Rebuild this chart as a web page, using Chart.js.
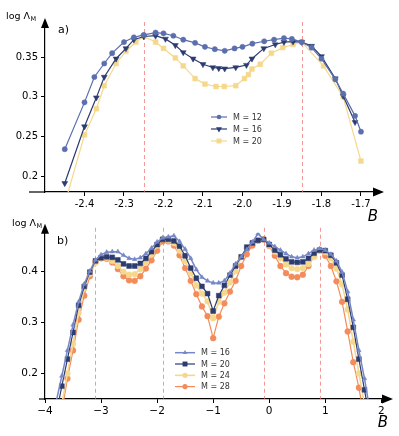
<!DOCTYPE html>
<html>
<head>
<meta charset="utf-8">
<script src="https://cdn.jsdelivr.net/npm/chart.js"></script>
<style>
  body { margin: 0; background: #fff; }
  #wrap { position: relative; width: 399px; height: 436px; overflow: hidden; }
  canvas { position: absolute; left: 0; }
  #chartA { top: 0; }
  #chartB { top: 210px; }
</style>
</head>
<body>
<div id="wrap">
  <canvas id="chartA" width="399" height="230"></canvas>
  <canvas id="chartB" width="399" height="226"></canvas>
</div>
<script>
// 패널 a) 데이터
const xA12 = [-2.45, -2.40, -2.375, -2.35, -2.33, -2.30, -2.275, -2.25, -2.22, -2.20, -2.175, -2.15, -2.12, -2.095, -2.07, -2.045, -2.02, -2.0, -1.975, -1.945, -1.92, -1.895, -1.875, -1.85, -1.825, -1.80, -1.765, -1.745, -1.715, -1.70];
const yA12 = [0.234, 0.293, 0.325, 0.342, 0.355, 0.369, 0.375, 0.378, 0.381, 0.380, 0.377, 0.372, 0.368, 0.363, 0.360, 0.358, 0.361, 0.363, 0.367, 0.370, 0.372, 0.374, 0.373, 0.369, 0.362, 0.348, 0.322, 0.304, 0.276, 0.256];
const xA16 = [-2.45, -2.40, -2.37, -2.35, -2.32, -2.295, -2.275, -2.25, -2.22, -2.195, -2.17, -2.15, -2.125, -2.10, -2.075, -2.06, -2.045, -2.017, -1.99, -1.976, -1.946, -1.917, -1.895, -1.872, -1.85, -1.825, -1.80, -1.765, -1.745, -1.715];
const yA16 = [0.191, 0.2625, 0.299, 0.325, 0.348, 0.361, 0.372, 0.376, 0.377, 0.373, 0.365, 0.356, 0.348, 0.341, 0.337, 0.336, 0.3355, 0.337, 0.340, 0.348, 0.361, 0.366, 0.369, 0.3695, 0.369, 0.364, 0.351, 0.323, 0.301, 0.268];
const xA20 = [-2.45, -2.40, -2.37, -2.35, -2.32, -2.295, -2.27, -2.25, -2.22, -2.20, -2.17, -2.15, -2.12, -2.095, -2.067, -2.046, -2.017, -1.995, -1.985, -1.976, -1.955, -1.927, -1.898, -1.872, -1.85, -1.795, -1.745, -1.70];
const yA20 = [0.165, 0.252, 0.285, 0.314, 0.342, 0.3575, 0.369, 0.376, 0.369, 0.361, 0.349, 0.339, 0.323, 0.316, 0.313, 0.313, 0.314, 0.323, 0.328, 0.335, 0.341, 0.355, 0.362, 0.366, 0.369, 0.339, 0.300, 0.219];
const xTicksA = [-2.4, -2.3, -2.2, -2.1, -2.0, -1.9, -1.8, -1.7];
const xTickLabelsA = ['-2.4', '-2.3', '-2.2', '-2.1', '-2.0', '-1.9', '-1.8', '-1.7'];
const yTicksA = [0.2, 0.25, 0.3, 0.35];
const yTickLabelsA = ['0.2', '0.25', '0.3', '0.35'];
const dashA = [-2.25, -1.85];

// 패널 b) 데이터
const xB = [-3.9, -3.8, -3.7, -3.6, -3.5, -3.4, -3.3, -3.2, -3.1, -3.0,
  -2.9, -2.8, -2.7, -2.6, -2.5, -2.4, -2.3, -2.2, -2.1, -2.0,
  -1.9, -1.8, -1.7, -1.6, -1.5, -1.4, -1.3, -1.2, -1.1, -1.0,
  -0.9, -0.8, -0.7, -0.6, -0.5, -0.4, -0.3, -0.2, -0.1, 0.0,
  0.1, 0.2, 0.3, 0.4, 0.5, 0.6, 0.7, 0.8, 0.9, 1.0,
  1.1, 1.2, 1.3, 1.4, 1.5, 1.6, 1.7, 1.8];
const yB16 = [0.095, 0.145, 0.195, 0.245, 0.295, 0.340, 0.375, 0.400, 0.422, 0.432,
  0.437, 0.438, 0.438, 0.431, 0.425, 0.423, 0.426, 0.434, 0.445, 0.457,
  0.465, 0.467, 0.469, 0.458, 0.443, 0.425, 0.403, 0.388, 0.381, 0.377,
  0.377, 0.381, 0.396, 0.414, 0.428, 0.442, 0.457, 0.473, 0.462, 0.455,
  0.448, 0.441, 0.434, 0.428, 0.426, 0.428, 0.434, 0.441, 0.444, 0.441,
  0.433, 0.420, 0.398, 0.360, 0.305, 0.245, 0.190, 0.125];
const yB20 = [0.065, 0.120, 0.175, 0.228, 0.280, 0.333, 0.370, 0.398, 0.420, 0.426,
  0.428, 0.427, 0.422, 0.414, 0.410, 0.410, 0.415, 0.425, 0.438, 0.452,
  0.462, 0.462, 0.459, 0.449, 0.430, 0.406, 0.386, 0.370, 0.356, 0.322,
  0.352, 0.372, 0.392, 0.410, 0.428, 0.447, 0.455, 0.460, 0.462, 0.452,
  0.441, 0.432, 0.424, 0.418, 0.417, 0.418, 0.425, 0.435, 0.441, 0.440,
  0.431, 0.416, 0.392, 0.345, 0.290, 0.228, 0.168, 0.105];
const yB24 = [0.040, 0.090, 0.140, 0.200, 0.258, 0.318, 0.366, 0.395, 0.416, 0.425,
  0.426, 0.420, 0.410, 0.399, 0.393, 0.394, 0.404, 0.418, 0.433, 0.450,
  0.463, 0.460, 0.455, 0.440, 0.420, 0.396, 0.372, 0.356, 0.341, 0.308,
  0.340, 0.358, 0.378, 0.400, 0.427, 0.445, 0.455, 0.460, 0.462, 0.450,
  0.438, 0.425, 0.413, 0.406, 0.404, 0.406, 0.414, 0.428, 0.440, 0.437,
  0.425, 0.405, 0.374, 0.325, 0.262, 0.200, 0.140, 0.080];
const yB28 = [0.020, 0.070, 0.125, 0.190, 0.245, 0.305, 0.352, 0.390, 0.418, 0.425,
  0.424, 0.417, 0.404, 0.390, 0.382, 0.381, 0.390, 0.405, 0.421, 0.440,
  0.458, 0.458, 0.450, 0.431, 0.406, 0.381, 0.355, 0.331, 0.312, 0.269,
  0.311, 0.337, 0.360, 0.381, 0.410, 0.433, 0.450, 0.460, 0.462, 0.449,
  0.430, 0.410, 0.396, 0.389, 0.388, 0.393, 0.410, 0.429, 0.440, 0.430,
  0.410, 0.380, 0.340, 0.282, 0.222, 0.172, 0.110, 0.050];
const xTicksB = [-4, -3, -2, -1, 0, 1, 2];
const xTickLabelsB = ['\u22124', '\u22123', '\u22122', '\u22121', '0', '1', '2'];
const yTicksB = [0.2, 0.3, 0.4];
const yTickLabelsB = ['0.2', '0.3', '0.4'];
const dashB = [-3.1, -1.9, -0.1, 0.9];

const pts = (xs, ys) => xs.map((x, i) => ({ x: x, y: ys[i] }));

// 마커 그리기 (범례용)
function marker(ctx, style, x, y, r, rot) {
    ctx.beginPath();
    if (style === 'rect') {
        const s = r * 0.72;
        ctx.rect(x - s, y - s, 2 * s, 2 * s);
    } else if (style === 'triangle') {
        const d = rot ? -1 : 1;
        ctx.moveTo(x, y - d * r);
        ctx.lineTo(x - r * 0.87, y + d * r * 0.5);
        ctx.lineTo(x + r * 0.87, y + d * r * 0.5);
        ctx.closePath();
    } else {
        ctx.arc(x, y, r * 0.9, 0, Math.PI * 2);
    }
    ctx.fill();
}

// 점선, 화살표, 라벨, 범례
const decor = {
    id: 'decor',
    beforeDatasetsDraw(chart, args, o) {
        const { ctx, chartArea: a } = chart;
        const xs = chart.scales.x;
        ctx.save();
        ctx.strokeStyle = 'rgba(240,110,110,0.7)';
        ctx.lineWidth = 1;
        ctx.setLineDash([4, 3]);
        o.dashes.forEach(v => {
            const px = Math.round(xs.getPixelForValue(v)) + 0.5;
            ctx.beginPath();
            ctx.moveTo(px, a.top - 5);
            ctx.lineTo(px, a.bottom);
            ctx.stroke();
        });
        ctx.restore();
    },
    afterDraw(chart, args, o) {
        const { ctx, chartArea: a } = chart;
        ctx.save();
        // 축 화살표
        ctx.fillStyle = '#000';
        ctx.beginPath();
        ctx.moveTo(a.left, a.top - 9);
        ctx.lineTo(a.left - 4, a.top + 1);
        ctx.lineTo(a.left + 4, a.top + 1);
        ctx.fill();
        ctx.beginPath();
        ctx.moveTo(a.right + 10, a.bottom);
        ctx.lineTo(a.right - 1, a.bottom - 4.5);
        ctx.lineTo(a.right - 1, a.bottom + 4.5);
        ctx.fill();
        ctx.strokeStyle = '#000';
        ctx.lineWidth = 1.2;
        ctx.beginPath();
        ctx.moveTo(o.axisStart, a.bottom);
        ctx.lineTo(a.left, a.bottom);
        ctx.stroke();

        // 축 라벨
        ctx.fillStyle = '#000';
        ctx.textBaseline = 'alphabetic';
        ctx.textAlign = 'left';
        ctx.font = '9.5px "DejaVu Sans"';
        ctx.fillText('log \u039b', o.ylab[0], o.ylab[1]);
        const w = ctx.measureText('log \u039b').width;
        ctx.font = '6.5px "DejaVu Sans"';
        ctx.fillText('M', o.ylab[0] + w + 0.5, o.ylab[1] + 2);
        ctx.font = 'italic 15px "DejaVu Sans"';
        ctx.textAlign = 'center';
        ctx.textBaseline = 'middle';
        ctx.fillText('B', o.xlab[0], o.xlab[1]);
        ctx.font = '11px "DejaVu Sans"';
        ctx.textAlign = 'left';
        ctx.fillText(o.panel, o.plab[0], o.plab[1]);

        // 범례
        const L = o.legend;
        ctx.font = '8px "DejaVu Sans"';
        chart.data.datasets.forEach((ds, i) => {
            const y = L.y + i * L.gap;
            ctx.strokeStyle = ds.borderColor;
            ctx.lineWidth = ds.borderWidth;
            ctx.beginPath();
            ctx.moveTo(L.x, y);
            ctx.lineTo(L.x + L.len, y);
            ctx.stroke();
            ctx.fillStyle = ds.borderColor;
            marker(ctx, ds.pointStyle, L.x + L.len / 2, y, ds.pointRadius, ds.pointRotation);
            ctx.fillStyle = '#333';
            ctx.fillText(ds.label, L.x + L.len + 6, y + 0.5);
        });
        ctx.restore();
    }
};

function series(label, data, color, style, r, rot, lw) {
    return {
        label: label,
        data: data,
        borderColor: color,
        backgroundColor: color,
        pointBackgroundColor: color,
        pointBorderColor: color,
        pointBorderWidth: 0.5,
        borderWidth: lw,
        pointStyle: style,
        pointRadius: r,
        pointRotation: rot,
        tension: 0
    };
}

function axes(xMin, xMax, xTicks, xLabels, yMin, yMax, yTicks, yLabels, xH, fs) {
    const tickFont = { family: 'DejaVu Sans', size: fs };
    const grid = { display: true, drawOnChartArea: false, drawTicks: true, tickLength: 4, color: '#000' };
    const border = { display: true, color: '#000', width: 1.2 };
    return {
        x: {
            type: 'linear', min: xMin, max: xMax,
            grid: grid, border: border,
            afterBuildTicks: s => { s.ticks = xTicks.map(v => ({ value: v })); },
            afterFit: s => { s.height = xH; s.paddingLeft = 0; s.paddingRight = 0; },
            ticks: { font: tickFont, color: '#000', padding: 2, maxRotation: 0, autoSkip: false, callback: (v, i) => xLabels[i] }
        },
        y: {
            type: 'linear', min: yMin, max: yMax,
            grid: grid, border: border,
            afterBuildTicks: s => { s.ticks = yTicks.map(v => ({ value: v })); },
            afterFit: s => { s.width = 45; s.paddingTop = 0; s.paddingBottom = 0; },
            ticks: { font: tickFont, color: '#000', padding: 3, autoSkip: false, callback: (v, i) => yLabels[i] }
        }
    };
}

// 패널 a)
new Chart(document.getElementById('chartA'), {
    type: 'line',
    data: {
        datasets: [
            series('M = 12', pts(xA12, yA12), '#5b6eae', 'circle', 2.6, 0, 1.2),
            series('M = 16', pts(xA16, yA16), '#2c3b70', 'triangle', 3.4, 180, 1.2),
            series('M = 20', pts(xA20, yA20), '#f4d88c', 'rect', 3.4, 0, 1.2)
        ]
    },
    options: {
        responsive: false,
        animation: false,
        layout: { padding: { top: 27, right: 25, left: 0, bottom: 0 } },
        scales: axes(-2.5, -1.667, xTicksA, xTickLabelsA, 0.18, 0.388, yTicksA, yTickLabelsA, 38, 10),
        plugins: {
            legend: { display: false },
            tooltip: { enabled: false },
            decor: {
                dashes: dashA, axisStart: 29,
                ylab: [6, 19], xlab: [373, 217], panel: 'a)', plab: [58, 30],
                legend: { x: 211, y: 117, gap: 12, len: 16 }
            }
        }
    },
    plugins: [decor]
});

// 패널 b)
new Chart(document.getElementById('chartB'), {
    type: 'line',
    data: {
        datasets: [
            series('M = 16', pts(xB, yB16), '#7587c6', 'triangle', 2.6, 0, 1.5),
            series('M = 20', pts(xB, yB20), '#2c3b70', 'rect', 3.4, 0, 1.2),
            series('M = 24', pts(xB, yB24), '#f5d88e', 'circle', 2.9, 0, 1.6),
            series('M = 28', pts(xB, yB28), '#f38b5b', 'circle', 2.9, 0, 1.2)
        ]
    },
    options: {
        responsive: false,
        animation: false,
        layout: { padding: { top: 22.75, right: 16, left: 0, bottom: 0 } },
        scales: axes(-4, 2.03, xTicksB, xTickLabelsB, 0.15, 0.475, yTicksB, yTickLabelsB, 37, 10.5),
        plugins: {
            legend: { display: false },
            tooltip: { enabled: false },
            decor: {
                dashes: dashB, axisStart: 39,
                ylab: [12, 16], xlab: [383, 213], panel: 'b)', plab: [57, 31],
                legend: { x: 175, y: 142.7, gap: 11.3, len: 20 }
            }
        }
    },
    plugins: [decor]
});
</script>
</body>
</html>
